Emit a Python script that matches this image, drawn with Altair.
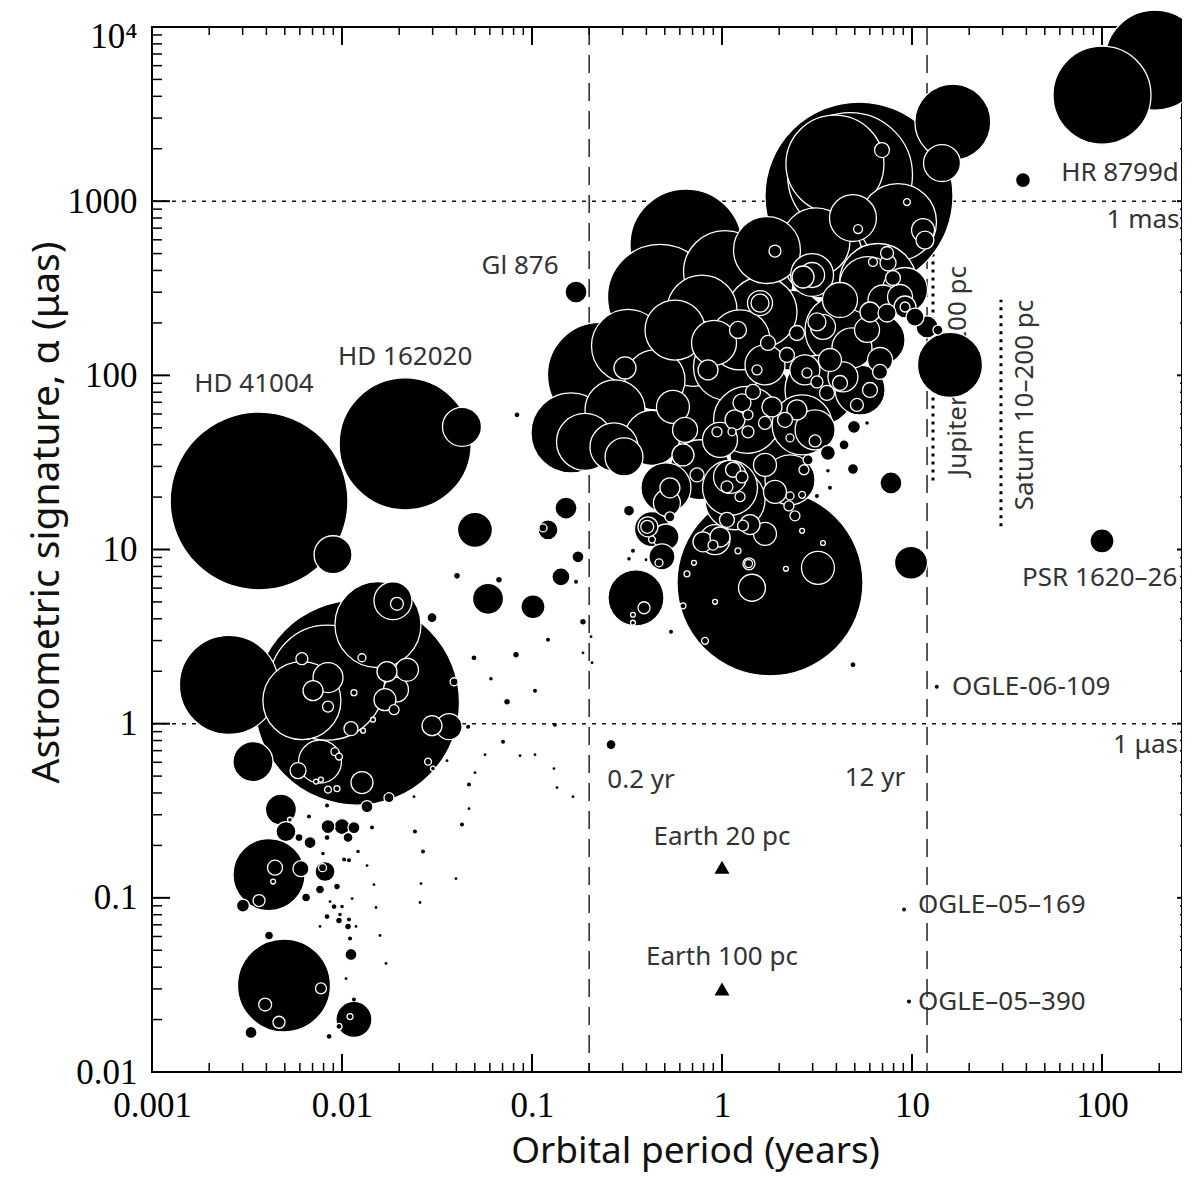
import altair as alt
import pandas as pd

# ---------------- planets: orbital period (yr), astrometric signature (micro-arcsec), mass (marker) -------------
period_a = [0.00366, 0.00897, 0.0215, 0.0428, 0.00254, 0.0120, 0.00615, 0.00834, 0.01546, 0.01855,
            0.01946, 0.00615, 0.00844, 0.00704, 0.00844, 0.01156, 0.01274, 0.01725, 0.02198, 0.01683,
            0.01924, 0.01879, 0.01115, 0.02977, 0.0366, 0.0389, 0.01456, 0.01291, 0.00766, 0.00587,
            0.00918, 0.00964, 0.01274, 0.00844, 0.00941, 0.0073, 0.00775, 0.02836, 0.0301, 0.01354,
            0.01767, 0.02393, 0.0034, 0.00477, 0.00507, 0.00532, 0.0403, 0.02977, 0.00844, 0.0100,
            0.01156, 0.01076, 0.00679, 0.00594, 0.00834, 0.01439, 0.0067, 0.00834, 0.0242, 0.02669,
            0.00794, 0.01214, 0.0428, 0.0466, 0.0466, 0.0461, 0.00413, 0.00444, 0.00608, 0.00434,
            0.00366, 0.00301, 0.00647, 0.01025, 0.01088, 0.00814, 0.0079, 0.00766, 0.00941, 0.00908,
            0.0100, 0.00865, 0.0113, 0.00834, 0.00976, 0.00964, 0.01088, 0.01076, 0.01185, 0.01102,
            0.01115, 0.00766, 0.0105, 0.01354, 0.01473, 0.0151, 0.01585, 0.01705, 0.00413, 0.00495,
            0.00394, 0.00466, 0.00775, 0.00332, 0.00855, 0.01156, 0.01102, 0.00964, 0.01156, 0.02605,
            0.0398, 0.02574, 0.01683]
alpha_a = [19.0, 9.33, 40.4, 50.6, 1.67, 1.32, 1.355, 1.72, 3.70, 5.08,
           4.88, 2.36, 1.84, 1.546, 1.252, 1.506, 2.39, 1.99, 2.04, 1.373,
           1.567, 1.203, 0.936, 0.974, 0.961, 1.74, 1.054, 0.912, 0.605, 0.538,
           0.691, 0.647, 0.459, 0.418, 0.424, 0.465, 0.477, 0.605, 0.552, 0.334,
           0.376, 0.381, 0.605, 0.321, 0.240, 0.281, 7.06, 4.06, 0.2565, 0.2565,
           0.253, 0.222, 0.2076, 0.222, 0.222, 0.253, 0.2927, 0.3385, 0.240, 0.1844,
           0.1796, 0.1844, 0.2634, 0.4467, 0.325, 0.961, 0.136, 0.149, 0.147, 0.124,
           0.0965, 0.0903, 0.1004, 0.166, 0.1645, 0.1416, 0.149, 0.1116, 0.116, 0.0891,
           0.0891, 0.0952, 0.099, 0.0781, 0.0802, 0.0741, 0.0751, 0.0685, 0.0685, 0.0584,
           0.0473, 0.0685, 0.0344, 0.1532, 0.1192, 0.088, 0.0608, 0.042, 0.0608, 0.0314,
           0.0244, 0.0193, 0.0302, 0.01687, 0.016, 0.02004, 0.0208, 0.01827, 0.0261, 0.1208,
           0.129, 0.094, 0.402]
mass_a = [79, 3.6, 43.6, 3.8, 24.5, 105, 15.2, 33, 18.5, 3.6,
          0.42, 0.36, 2.25, 1.0, 0.3, 0.09, 0.16, 1.0, 1.32, 1.21,
          1.56, 0.25, 0.49, 1.0, 1.69, 0.16, 0.06, 0.06, 4.6, 0.64,
          0.16, 0.12, 1.21, 0.12, 0.09, 0.06, 0.06, 0.12, 0.06, 0.36,
          0.25, 0.02, 4.0, 2.4, 1.0, 0.06, 0.12, 0.25, 0.49, 0.64,
          0.36, 0.25, 0.36, 0.16, 0.09, 0.04, 0.04, 0.04, 0.04, 0.04,
          0.06, 0.06, 0.04, 0.04, 0.02, 0.04, 13, 0.56, 0.64, 0.06,
          0.36, 0.42, 0.2, 0.04, 0.04, 1.0, 0.16, 0.2, 0.12, 0.09,
          0.06, 0.02, 0.02, 0.09, 0.06, 0.12, 0.04, 0.12, 0.02, 0.04,
          0.36, 0.02, 0.02, 0.02, 0.02, 0.02, 0.02, 0.02, 0.2, 21.6,
          0.42, 0.36, 0.3, 0.36, 0.09, 3.24, 0.09, 0.09, 0.04, 0.02,
          0.02, 0.02, 0.02]

period_b = [0.0501, 0.0587, 0.1012, 0.067, 0.151, 0.1214, 0.1143, 0.1746, 0.142, 0.1705,
            0.0834, 0.1855, 0.2045, 0.1214, 0.1855, 0.207, 0.0495, 0.0824, 0.0608, 0.0739,
            0.1037, 0.132, 0.0704, 0.0566, 0.0865, 0.1037, 0.0357, 0.1305, 0.0501, 0.1354,
            0.1643, 0.2606, 0.3526, 0.3887, 0.340, 0.340, 0.324, 0.4078, 0.404, 0.507,
            0.483, 0.466, 0.532, 0.428, 0.340, 0.324, 0.398, 0.539, 0.428, 0.1705,
            0.1604, 0.190, 0.270, 0.305, 0.228, 0.320, 0.3087]
alpha_b = [12.97, 5.21, 4.69, 6.70, 17.3, 12.97, 13.3, 9.08, 6.97, 6.53,
           59.3, 3.85, 3.16, 3.03, 2.55, 2.24, 2.39, 2.49, 1.81, 1.337,
           1.546, 0.987, 0.788, 0.664, 0.655, 0.664, 0.613, 0.552, 0.523, 0.4295,
           0.381, 0.758, 5.28, 4.63, 4.22, 3.80, 16.7, 13.5, 13.5, 11.8,
           9.08, 8.39, 15.4, 11.4, 9.83, 8.84, 8.73, 3.37, 13.1, 301,
           46.7, 41.5, 38.8, 34.0, 100.5, 147.5, 110.3]
mass_b = [3.06, 2.4, 1.44, 0.12, 1.21, 1.0, 0.16, 0.36, 0.81, 0.04,
          0.09, 0.12, 0.02, 0.04, 0.02, 0.02, 0.09, 0.12, 0.06, 0.12,
          0.04, 0.04, 0.04, 0.02, 0.02, 0.02, 0.02, 0.02, 0.02, 0.02,
          0.02, 0.25, 7.84, 0.36, 0.06, 0.06, 0.3, 1.0, 0.42, 1.69,
          1.69, 0.16, 0.25, 0.12, 0.04, 0.06, 0.02, 0.04, 3.06, 1.21,
          16, 8.1, 5.76, 3.6, 27.6, 13.3, 1.21]

period_c = [1.789, 3.20, 1.438, 1.684, 1.29, 1.387, 1.38, 2.64, 2.17, 3.40,
            1.214, 0.654, 0.712, 0.919, 0.623, 0.814, 4.89, 5.13, 4.95, 5.80,
            4.39, 4.89, 3.61, 3.70, 3.16, 7.75, 9.88, 3.61, 3.57, 4.18,
            6.79, 6.79, 4.83, 4.33, 2.73, 6.01, 3.40, 5.80, 6.01, 7.04,
            9.19, 9.19, 7.94, 7.39, 8.44, 11.43, 11.7, 9.41, 6.95, 5.20,
            4.89, 5.26, 3.93, 4.72, 16.4, 14.38, 6.62, 3.40, 3.12, 2.98,
            2.98, 1.725, 1.90, 1.624, 1.585, 1.585, 2.67, 1.037, 1.404, 0.785,
            0.6465, 0.472, 0.704, 1.062, 0.908, 0.844, 1.214, 1.746, 2.198, 3.70,
            1.528, 2.80, 3.16, 2.48, 3.16, 5.87, 8.65, 7.39, 10.37, 12.0,
            13.7, 15.85, 0.428, 0.507, 0.532, 0.513, 0.552, 0.639, 0.623, 0.739,
            1.354, 2.64, 1.102, 1.102, 1.684, 1.90, 2.28, 2.64, 2.25, 2.42,
            2.70, 2.84, 2.28, 3.09, 1.684, 1.37, 2.48, 0.941, 1.062, 1.274,
            1.062, 0.897, 0.794, 0.976, 0.919, 1.274, 1.456, 1.37, 2.146, 1.129,
            1.143, 1.244, 1.171, 1.833, 1.404, 7.48, 6.23]
alpha_c = [6.44, 7.85, 6.03, 12.3, 13.7, 8.28, 8.3, 12.8, 7.75, 10.9,
           9.83, 7.25, 8.39, 5.01, 4.75, 2.99, 2.18, 67.6, 50.6, 53.3,
           39.9, 29.0, 28.3, 22.6, 20.3, 24.1, 8.39, 35.9, 79.3, 90.4,
           104.6, 122.5, 143.6, 97.9, 107.4, 82.4, 189.6, 182.2, 231, 270.8,
           246.8, 246.8, 362, 504, 759, 682, 598, 988, 1964, 692,
           800, 1069, 1633, 1412, 2844, 1655, 343.6, 471.6, 583, 376.8,
           376.8, 524, 517, 231, 260, 260, 367, 392, 339, 237,
           560, 281.7, 134.5, 111.7, 153.5, 107.4, 182.2, 153.5, 130.9, 122.5,
           107.4, 103.2, 91.6, 175, 202.5, 330, 281.7, 228, 216, 189.6,
           182, 114.8, 43.7, 22.6, 22.6, 18.5, 65.9, 48.6, 34.9, 26.8,
           55.5, 51.9, 26.1, 22.6, 30.6, 21.4, 20.3, 20.6, 17.8, 15.6,
           28.7, 32.7, 43.7, 42.0, 53.3, 47.4, 63.3, 47.4, 22.9, 26.1,
           14.8, 10.6, 11.07, 11.8, 11.4, 69.5, 80.3, 59.3, 55.5, 47.4,
           28.7, 20.1, 55.5, 65.9, 13.9, 441.6, 447.6]
mass_c = [86.5, 2.72, 1.82, 1.32, 0.3, 0.36, 0.16, 0.06, 0.06, 0.06,
          0.09, 0.09, 0.06, 0.06, 0.09, 0.12, 0.09, 0.42, 0.42, 0.06,
          0.25, 0.3, 0.06, 0.04, 0.04, 1.21, 2.72, 0.56, 0.56, 0.56,
          0.56, 1.56, 4.0, 2.25, 2.25, 0.56, 1.56, 1.56, 1.0, 2.25,
          1.21, 0.25, 0.56, 0.42, 14.8, 1.32, 0.81, 0.12, 0.56, 0.2,
          5.5, 88.4, 24, 39, 14.4, 3.4, 14.8, 16, 11.6, 4.6,
          1.56, 11.2, 0.36, 12.25, 1.56, 0.81, 1.21, 17.2, 18.5, 12.25,
          31.4, 27.6, 11.2, 11.2, 5.06, 1.0, 0.72, 0.56, 0.56, 1.32,
          0.25, 0.25, 0.36, 0.56, 0.81, 8.1, 1.56, 0.81, 0.81, 1.21,
          0.25, 10.6, 7.56, 6.25, 1.0, 1.82, 2.72, 1.56, 1.21, 0.49,
          11.2, 9.0, 2.72, 7.56, 1.32, 1.32, 0.16, 0.12, 0.25, 0.25,
          0.25, 0.25, 0.16, 0.36, 0.42, 0.36, 1.0, 0.25, 0.36, 0.36,
          0.56, 0.25, 1.0, 1.0, 2.25, 0.81, 0.56, 0.25, 0.56, 0.16,
          0.56, 0.25, 1.0, 1.0, 1.0, 0.64, 0.2]

# dense core of the main group (1-6 yr, 20-300 micro-arcsec)
period_e = [2.28, 4.18, 1.321, 0.766, 1.789, 3.28, 5.33, 0.766, 1.171, 2.28,
            0.444, 0.566, 1.244, 6.79, 9.19, 0.2735, 1.684, 3.09, 0.976, 4.18]
alpha_e = [182, 182, 77.2, 59.3, 34.9, 82.4, 82.4, 28.7, 19.3, 25.1,
           94.1, 182, 159.6, 159.6, 309, 63.3, 114.8, 48.6, 42.6, 270.8]
mass_e = [16, 12.25, 20.25, 12.25, 16, 12.25, 6.25, 9, 9, 6.25,
          9, 9, 9, 6.25, 5.06, 9, 4, 4, 3.06, 3.06]

period_d = [190, 100, 38.4, 100, 13.5, 9.08, 9.64]
alpha_d = [6450, 4060, 1321, 11.2, 1.63, 0.0857, 0.0254]
mass_d = [25, 24, 0.56, 1.44, 0.04, 0.04, 0.04]

# Earth analogues
earth_period = [1.0, 1.0]
earth_alpha = [0.15, 0.03]

# Jupiter / Saturn at 10-200 pc
js_period = [12.9, 29.4]
js_alpha_200pc = [24.9, 13.6]
js_alpha_10pc = [497, 272]

# reference lines
ref_periods = [0.2, 12]
ref_alphas = [1000, 1]

# annotations
center_text = ["HD 41004", "HD 162020", "Gl 876", "HR 8799d",
               "12 yr", "0.2 yr", "Earth 20 pc", "Earth 100 pc"]
center_period = [0.00344, 0.0215, 0.0865, 124.4, 6.38, 0.375, 1.0, 1.0]
center_alpha = [89.3, 127.5, 424, 1449, 0.49, 0.477, 0.2248, 0.046]
left_text = ["OGLE-06-109", "OGLE–05–169", "OGLE–05–390"]
left_period = [16.24, 10.75, 10.75]
left_alpha = [1.63, 0.0915, 0.0251]
right_text = ["1 mas", "1 μas", "PSR 1620–26"]
right_period = [256, 251, 249]
right_alpha = [779, 0.758, 6.88]
rot_text = ["Jupiter 10–200 pc", "Saturn 10–200 pc"]
rot_period = [17.5, 39.3]
rot_alpha = [106, 67.6]

# axis tick values
x_major = [0.001, 0.01, 0.1, 1, 10, 100]
y_major = [0.01, 0.1, 1, 10, 100, 1000, 10000]
x_minor = [k * 10.0 ** e for e in range(-3, 3) for k in range(2, 10) if k * 10.0 ** e < 260]
y_minor = [k * 10.0 ** e for e in range(-2, 4) for k in range(2, 10)]

# ---------------- chart ----------------
W, H = 1030, 1045
XMAX = 263.7

xs = alt.Scale(type="log", domain=[0.001, XMAX], nice=False)
ys = alt.Scale(type="log", domain=[0.01, 10000], nice=False)

x_axis = alt.Axis(values=x_major, labelExpr="format(datum.value, '~g')", ticks=False, domain=False,
                  grid=False, labelFont="Liberation Serif", labelFontSize=35, labelColor="black",
                  labelPadding=16, labelFlush=False, labelOverlap=False,
                  title="Orbital period (years)", titleFont="Noto Sans", titleFontSize=37,
                  titleFontWeight="normal", titleColor="#111", titleX=543, titleY=90,
                  titleAlign="center", titleBaseline="alphabetic")
y_axis = alt.Axis(values=y_major,
                  labelExpr="datum.value >= 10000 ? '10⁴' : format(datum.value, '~g')",
                  ticks=False, domain=False, grid=False, labelFont="Liberation Serif",
                  labelFontSize=35, labelColor="black", labelPadding=15, labelFlush=False,
                  labelOverlap=False,
                  labelOffset={"condition": {"test": "datum.value >= 10000", "value": 9}, "value": 0},
                  title="Astrometric signature, α (μas)", titleFont="Noto Sans", titleFontSize=39,
                  titleFontWeight="normal", titleColor="#111", titleX=-94, titleY=485,
                  titleAngle=270, titleAlign="center", titleBaseline="alphabetic")


def X(f="period"):
    return alt.X(f"{f}:Q", scale=xs, axis=x_axis)


def Y(f="alpha"):
    return alt.Y(f"{f}:Q", scale=ys, axis=y_axis)


planets = pd.DataFrame({
    "period": period_a + period_b + period_c + period_e + period_d,
    "alpha": alpha_a + alpha_b + alpha_c + alpha_e + alpha_d,
    "mass": mass_a + mass_b + mass_c + mass_e + mass_d,
})

hlines = alt.Chart(pd.DataFrame({"alpha": ref_alphas})).mark_rule(
    strokeDash=[4, 6], strokeWidth=1.5, color="#111").encode(
    y=Y(), x=alt.value(0), x2=alt.value(W))

vlines = alt.Chart(pd.DataFrame({"period": ref_periods})).mark_rule(
    strokeDash=[18, 10], strokeWidth=1.5, color="#222").encode(
    x=X(), y=alt.value(0), y2=alt.value(H))

js = alt.Chart(pd.DataFrame({"period": js_period, "alpha": js_alpha_200pc, "alpha2": js_alpha_10pc})).mark_rule(
    strokeDash=[3, 5], strokeWidth=3, color="black").encode(
    x=X(), y=Y(), y2=alt.Y2("alpha2:Q"))

txt_style = dict(font="Noto Sans", fontSize=26, color="#333", baseline="middle")

t_center = alt.Chart(pd.DataFrame({"period": center_period, "alpha": center_alpha, "t": center_text})).mark_text(
    align="center", **txt_style).encode(x=X(), y=Y(), text="t:N")
t_left = alt.Chart(pd.DataFrame({"period": left_period, "alpha": left_alpha, "t": left_text})).mark_text(
    align="left", **txt_style).encode(x=X(), y=Y(), text="t:N")
t_right = alt.Chart(pd.DataFrame({"period": right_period, "alpha": right_alpha, "t": right_text})).mark_text(
    align="right", **txt_style).encode(x=X(), y=Y(), text="t:N")
t_rot = alt.Chart(pd.DataFrame({"period": rot_period, "alpha": rot_alpha, "t": rot_text})).mark_text(
    align="center", angle=270, **txt_style).encode(x=X(), y=Y(), text="t:N")

circles = alt.Chart(planets).mark_circle(opacity=1, fill="black", stroke="white").encode(
    x=X(), y=Y(),
    size=alt.Size("mass:Q", scale=alt.Scale(domain=[0, 110], range=[0, 44000]), legend=None),
    order=alt.Order("mass:Q", sort="descending"),
    strokeWidth=alt.condition("datum.mass < 0.05", alt.value(0), alt.value(1.3)),
)

earth = alt.Chart(pd.DataFrame({"period": earth_period, "alpha": earth_alpha})).mark_point(
    shape="triangle-up", filled=True, fill="black", opacity=1, size=225, strokeWidth=0).encode(
    x=X(), y=Y())


def xticks(vals, y0, y1, sw):
    return alt.Chart(pd.DataFrame({"period": vals})).mark_rule(color="black", strokeWidth=sw).encode(
        x=X(), y=alt.value(y0), y2=alt.value(y1))


def yticks(vals, x0, x1, sw):
    return alt.Chart(pd.DataFrame({"alpha": vals})).mark_rule(color="black", strokeWidth=sw).encode(
        y=Y(), x=alt.value(x0), x2=alt.value(x1))


ticks = [
    xticks(x_major, H, H - 18, 2), xticks(x_minor, H, H - 9, 1.5),
    xticks(x_major, 0, 18, 2), xticks(x_minor, 0, 8, 1.5),
    yticks(y_major, 0, 18, 2), yticks(y_minor, 0, 10, 1.5),
    yticks(y_major, W - 5, W, 2), yticks(y_minor, W - 2, W, 1.5),
]

chart = alt.layer(
    hlines, vlines, js, t_center, t_left, t_right, t_rot, circles, earth, *ticks
).properties(
    width=W, height=H,
    autosize=alt.AutoSizeParams(type="none"),
    padding={"left": 144, "top": 19, "right": 0, "bottom": 102},
).configure_view(stroke="black", strokeWidth=2)

chart.save("out.html", embed_options={"renderer": "svg", "actions": False})
